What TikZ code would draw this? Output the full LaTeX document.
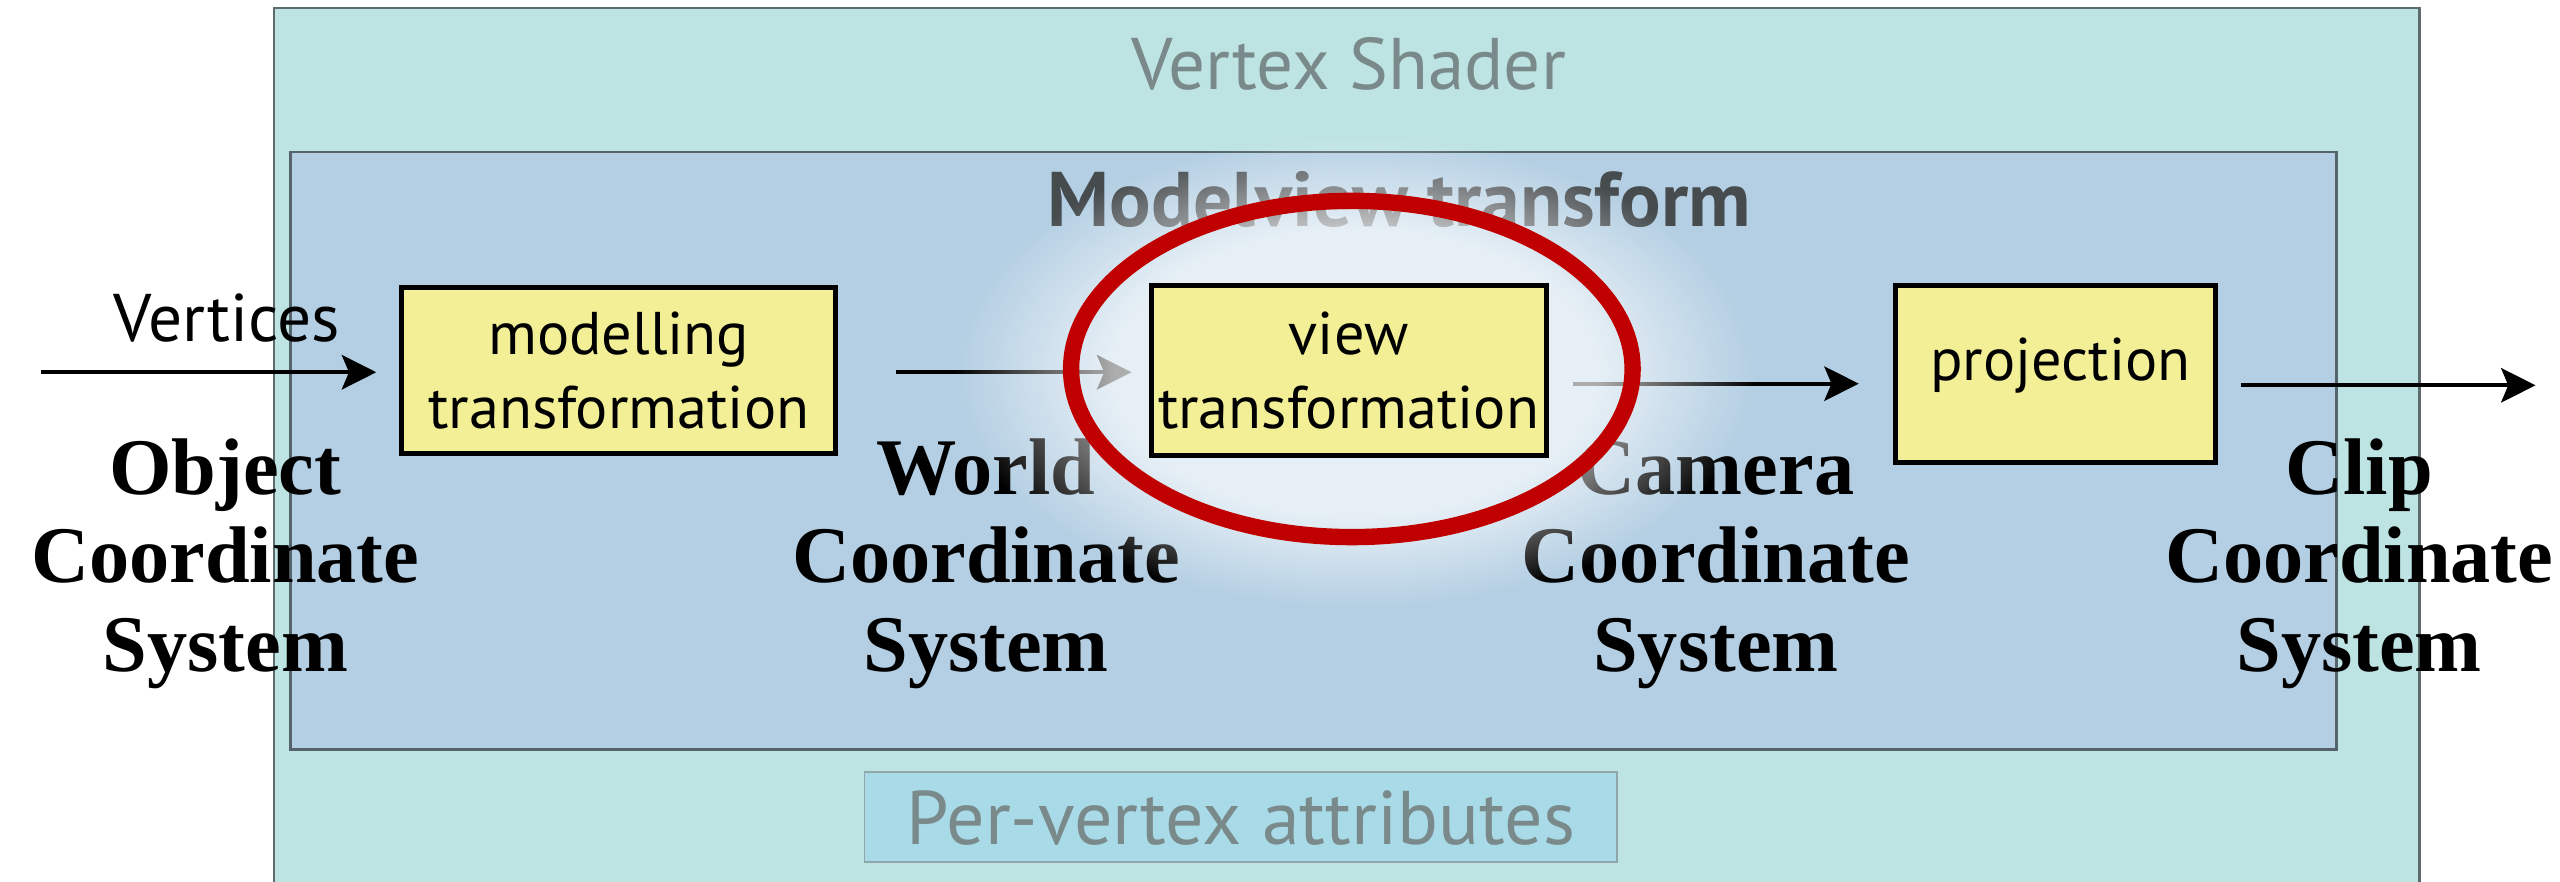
\documentclass[tikz,border=0pt]{standalone}
\usepackage{fontspec}
\newfontfamily\sansf{PT Sans}
\newfontfamily\seriff{Liberation Serif}
\usetikzlibrary{arrows.meta,fadings,calc}
\pgfdeclareradialshading{glowshade}{\pgfpointorigin}{color(0bp)=(white); color(15bp)=(white); color(25bp)=(black); color(50bp)=(black)}
\pgfdeclarefading{glowfade}{\pgfuseshading{glowshade}}
\pgfdeclarelayer{bg}
\pgfdeclarelayer{mid}
\pgfdeclarelayer{glowl}
\pgfsetlayers{bg,mid,glowl,main}
\definecolor{shaderfill}{HTML}{BEE3E3}
\definecolor{shaderline}{HTML}{5E6B6C}
\definecolor{mvfill}{HTML}{B4CFE3}
\definecolor{mvline}{HTML}{55646B}
\definecolor{pvfill}{HTML}{A9DAE7}
\definecolor{pvline}{HTML}{8FA6AA}
\definecolor{boxyellow}{HTML}{F2EF96}
\definecolor{ringred}{HTML}{C00000}
\definecolor{titlegrey}{HTML}{7A8A8B}
\definecolor{mvgrey}{HTML}{464B4E}
\begin{document}
\begin{tikzpicture}[x=0.02cm, y=-0.02cm,
  arr/.style={draw=black, line width=1.4pt, -{Stealth[length=12pt,width=12pt,inset=2.5pt]}},
  tbox/.style={draw=black, line width=1.7pt, fill=boxyellow, inner sep=0pt, align=center,
    font=\sansf\fontsize{21}{25.6}\selectfont},
  coordlbl/.style={font=\seriff\bfseries\fontsize{28}{30.7}\selectfont, align=center, anchor=base, inner sep=0pt},
  sanslbl/.style={font=\sansf\fontsize{#1}{#1}\selectfont, anchor=base, inner sep=0pt}]
\useasboundingbox (0,0) rectangle (1568,540);

% ---- background boxes
\begin{pgfonlayer}{bg}
  \draw[fill=shaderfill, draw=shaderline, line width=0.8pt] (168,5) rectangle (1482,560);
  \draw[fill=mvfill, draw=mvline, line width=0.9pt] (178,93) rectangle (1431,459);
  \node[draw=pvline, fill=pvfill, line width=0.6pt, minimum width=262.3pt, minimum height=31.3pt, inner sep=0pt] (pvbox) at (760,500.5) {};
\end{pgfonlayer}

% ---- yellow boxes
\node[tbox, minimum width=151.4pt, minimum height=58pt] (mod) at (379,227) {modelling\\transformation};
\node[tbox, minimum width=137.7pt, minimum height=59.2pt] (view) at (826,227) {view\\transformation};
\node[tbox, minimum width=111.5pt, minimum height=61.5pt] (proj) at (1259,229) {};
\node[sanslbl=21] (projtxt) at (1262,233) {projection};

\coordinate (vin) at (25,228);
\coordinate (vout) at (1553,236);

\begin{pgfonlayer}{mid}
  \node[sanslbl=25.5, text=titlegrey] (vstitle) at (826,55) {Vertex Shader};
  \node[font=\sansf\bfseries\fontsize{27}{27}\selectfont, anchor=base, inner sep=0pt, text=mvgrey] (mvtitle) at (857,139) {Modelview transform};
  \node[sanslbl=26.5, text=titlegrey] (pvtxt) at (pvbox.center |- 0,517) {Per-vertex attributes};
  \node[sanslbl=23.5] (verts) at (139,209) {Vertices};
  \node[coordlbl] (ocs) at (138,411) {Object\\Coordinate\\System};
  \node[coordlbl] (wcs) at (604,411) {World\\Coordinate\\System};
  \node[coordlbl] (ccs) at (1051,411) {Camera\\Coordinate\\System};
  \node[coordlbl] (kcs) at (1445,411) {Clip\\Coordinate\\System};

  \draw[arr, shorten >=8pt] (vin) -- (vin -| mod.west);
  \draw[arr, shorten <=20pt, shorten >=6pt] ($(mod.east)+(0,1)$) -- ($(view.west)+(0,1)$);
  \draw[arr, shorten <=8.5pt, shorten >=12pt] ($(view.east)+(0,8)$) -- ($(proj.west)+(0,6)$);
  \draw[arr, shorten <=8pt] ($(proj.east)+(0,7)$) -- (vout);
\end{pgfonlayer}

\begin{pgfonlayer}{glowl}
  \fill[white, fill opacity=0.68, path fading=glowfade] (830,228) ellipse [x radius=4.9cm, y radius=2.9cm];
\end{pgfonlayer}

\draw[ringred, line width=5.7pt] (828,226) ellipse [x radius=3.44cm, y radius=2.06cm];
\end{tikzpicture}
\end{document}
